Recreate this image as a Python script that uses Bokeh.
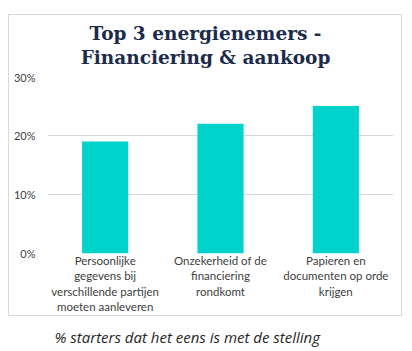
from bokeh.plotting import figure
from bokeh.models import (FactorRange, Range1d, FixedTicker, NumeralTickFormatter,
                          Label, ColumnDataSource)
from bokeh.layouts import column
from bokeh.embed import file_html
from bokeh.resources import INLINE

categories = [
    "Persoonlijke\ngegevens bij\nverschillende partijen\nmoeten aanleveren",
    "Onzekerheid of de\nfinanciering\nrondkomt",
    "Papieren en\ndocumenten op orde\nkrijgen",
]
values = [0.19, 0.22, 0.25]
y_ticks = [0, 0.1, 0.2, 0.3]
title_lines = ["Top 3 energienemers -", "Financiering & aankoop"]
subtitle = "% starters dat het eens is met de stelling"

BORDER = "#d9d9d9"


def blank(w, h):
    f = figure(width=w, height=h, output_backend="svg", toolbar_location=None,
               x_range=Range1d(0, w), y_range=Range1d(h, 0),
               x_axis_location=None, y_axis_location=None, min_border=0)
    f.title = None
    f.grid.visible = False
    f.outline_line_color = None
    f.background_fill_alpha = 0
    f.border_fill_alpha = 0
    return f


# title area (top part of the border box)
title_fig = blank(394, 56)
for i, t in enumerate(title_lines):
    title_fig.add_layout(Label(x=197, y=19 + 24 * i, x_units="canvas", y_units="canvas",
                               text=t, text_align="center", text_baseline="alphabetic",
                               text_font="DejaVu Serif", text_font_style="bold",
                               text_font_size="18.5px", text_color="#1c2b4a"))

# main chart
p = figure(width=394, height=246, output_backend="svg", toolbar_location=None,
           x_range=FactorRange(*categories, range_padding=0),
           y_range=Range1d(0, 0.30),
           min_border_left=39, min_border_right=9, min_border_top=6, min_border_bottom=63)
p.title = None
p.outline_line_color = None
p.border_fill_alpha = 0

src = ColumnDataSource(dict(cat=categories, val=values))
p.vbar(x="cat", top="val", width=0.4, source=src, color="#00d2cc", line_color=None)

p.xgrid.grid_line_color = None
p.ygrid.grid_line_color = BORDER
p.ygrid.grid_line_width = 1

p.yaxis.ticker = FixedTicker(ticks=y_ticks)
p.yaxis.formatter = NumeralTickFormatter(format="0%")
for ax in (p.xaxis, p.yaxis):
    ax.axis_line_color = None
    ax.major_tick_line_color = None
    ax.minor_tick_line_color = None
    ax.major_tick_out = 0
    ax.major_tick_in = 0
    ax.minor_tick_out = 0
    ax.minor_tick_in = 0
    ax.major_label_text_font = "Lato"
    ax.major_label_text_color = "#404040"
p.yaxis.major_label_text_font_size = "11px"
p.yaxis.major_label_standoff = 12
p.xaxis.major_label_text_font_size = "11.5px"
p.xaxis.major_label_standoff = 0

box = column(title_fig, p, spacing=0, margin=(14, 0, 0, 8),
             styles={"outline": "1px solid " + BORDER, "outline-offset": "-1px"})

# caption below the box
sub_fig = blank(412, 35)
sub_fig.add_layout(Label(x=54, y=20, x_units="canvas", y_units="canvas",
                         text=subtitle, text_align="left", text_baseline="alphabetic",
                         text_font="Open Sans", text_font_style="italic",
                         text_font_size="15px", text_color="#262626"))

root = column(box, sub_fig, spacing=0, margin=0)
open("out.html", "w").write(file_html(root, INLINE))
